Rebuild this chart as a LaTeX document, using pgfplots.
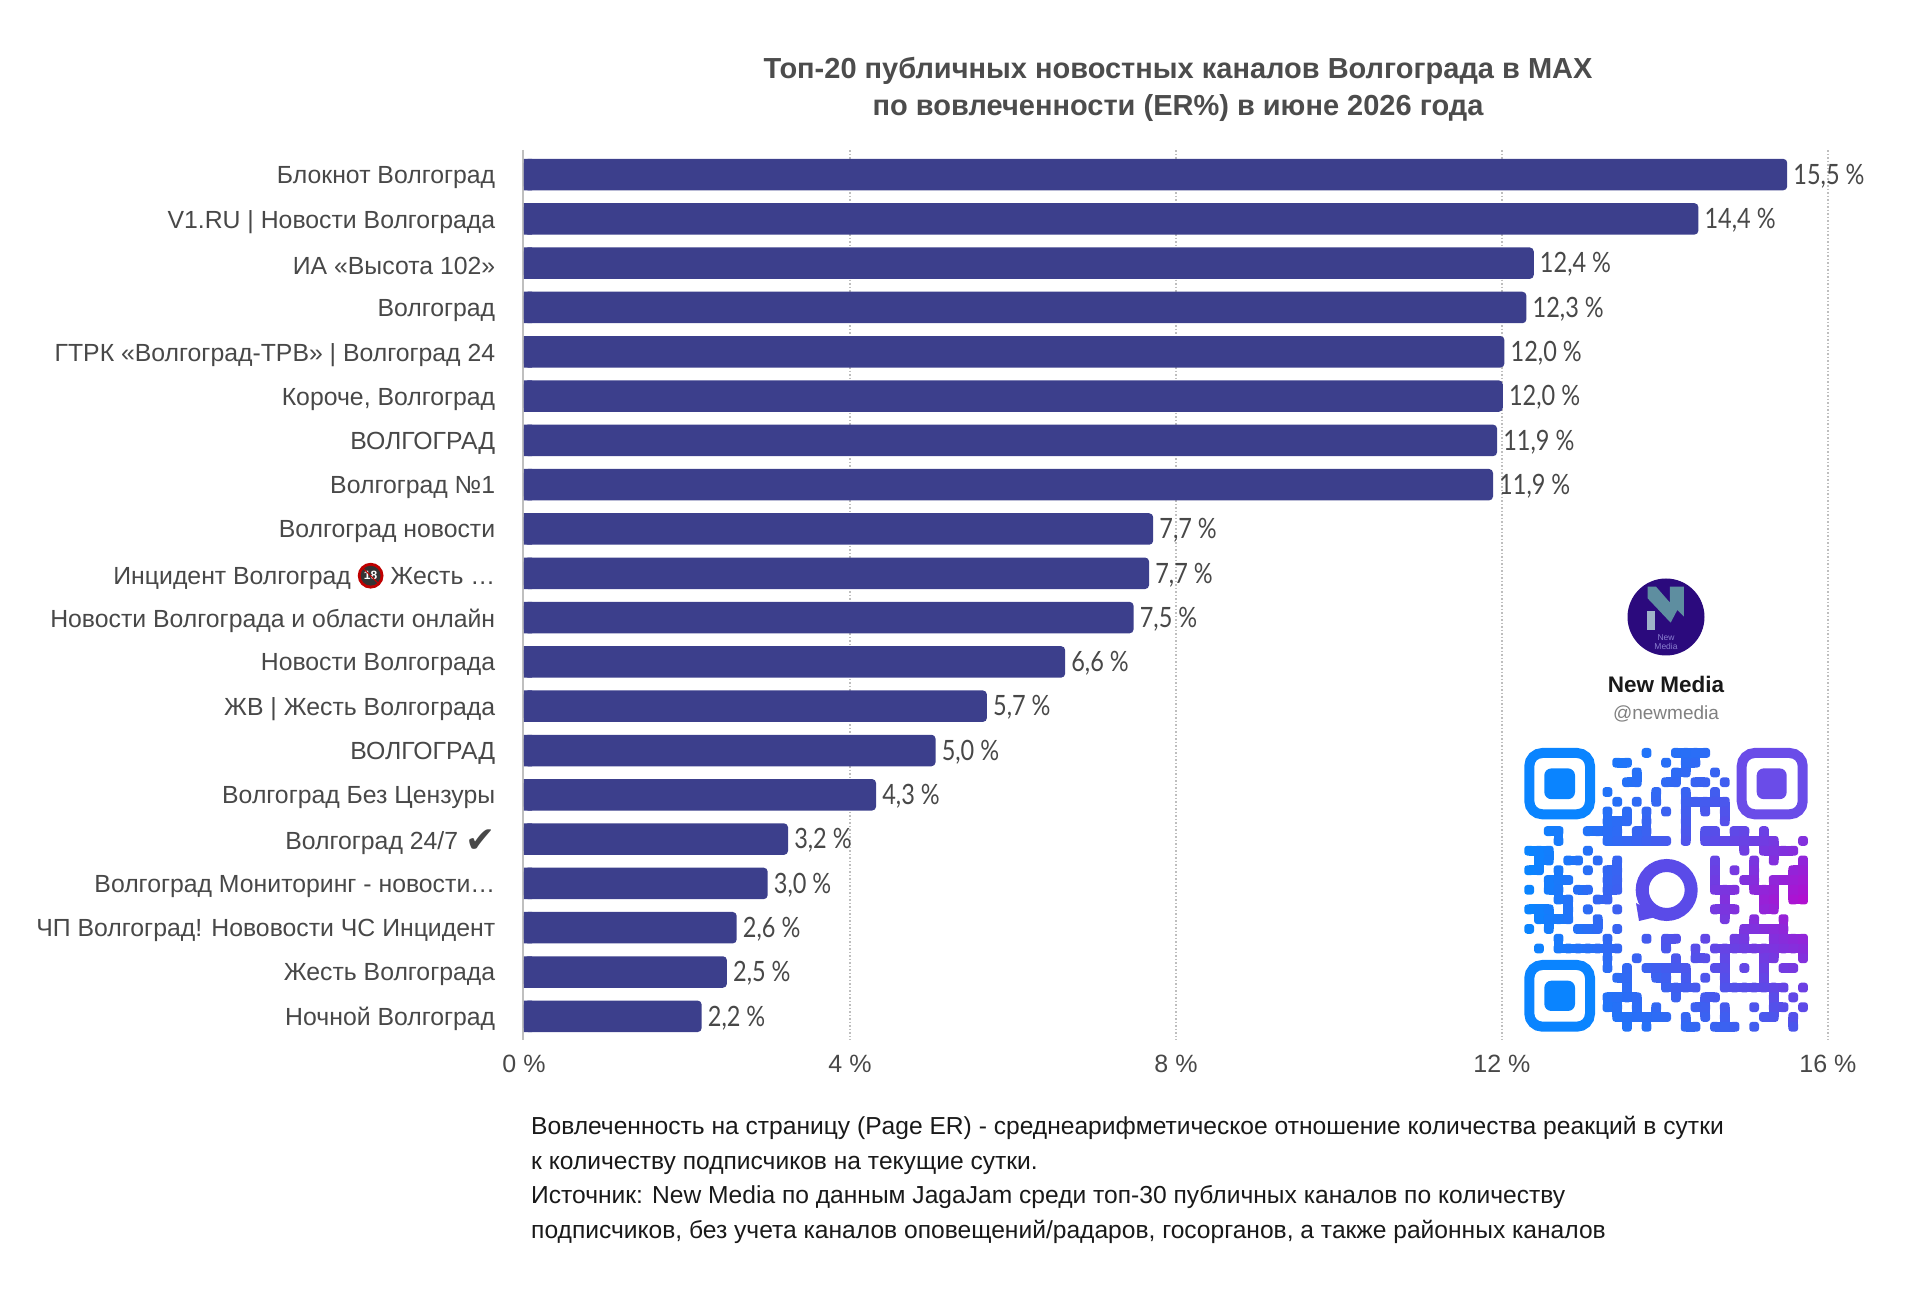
\documentclass[border=0pt]{standalone}
\usepackage{fontspec}
\usepackage{pgfplots}
\usepackage{pgfplotstable}
\pgfplotsset{compat=1.18}
\setmainfont{Liberation Sans}
\newfontfamily\valuefont{Lato}
\newfontfamily\symbfont{DejaVu Sans}

\definecolor{barblue}{HTML}{3C3F8C}
\definecolor{labelgray}{HTML}{484848}
\definecolor{titlegray}{HTML}{4C4C4C}
\definecolor{gridgray}{HTML}{BEBEBE}
\definecolor{qrblue}{HTML}{0A84FF}
\definecolor{qrpurple}{HTML}{B010D0}
\definecolor{qrviolet}{HTML}{6A4CE8}
\definecolor{qrring}{HTML}{5A4BE8}
\definecolor{logobg}{HTML}{2B0A7D}
\definecolor{logoteal}{HTML}{5E8EA0}
\definecolor{logopale}{HTML}{9FB3C8}
\definecolor{logolilac}{HTML}{8A7FD0}

% pos, bar length, printed value, square start of the bar
\pgfplotstableread{
pos val er base
0 15.50 15.5 0.1
1 14.41 14.4 0.1
2 12.39 12.4 0.1
3 12.30 12.3 0.1
4 12.03 12.0 0.1
5 12.01 12.0 0.1
6 11.94 11.9 0.1
7 11.89 11.9 0.1
8 7.72 7.7 0.1
9 7.67 7.7 0.1
10 7.48 7.5 0.1
11 6.64 6.6 0.1
12 5.68 5.7 0.1
13 5.05 5.0 0.1
14 4.32 4.3 0.1
15 3.24 3.2 0.1
16 2.99 3.0 0.1
17 2.61 2.6 0.1
18 2.49 2.5 0.1
19 2.18 2.2 0.1
}\ertable

% tick label keys stay active inside the label, so no \node in here
\newcommand{\adult}{\tikz[baseline=-0.36em]{\fill[red!75!black] (0,0) circle (0.52em);\fill[black!80] (0,0) circle (0.4em);\pgftext[x=0pt,y=0pt]{\color{white}\fontsize{12}{12}\selectfont\bfseries 18}\draw[red!75!black,line width=1pt] (-0.3em,0.3em)--(0.3em,-0.3em);}}

% qr modules, row/columns
\def\qrcells{
0/{12,15,16,17,18},
1/{9,10,14,16,17},
2/{11,15,16,19},
3/{10,11,14,15,17,18,20},
4/{8,13,16,19},
5/{9,11,13,16,17,18,19,20},
6/{8,10,12,14,16,18,20},
7/{8,9,10,12,16,20},
8/{2,3,6,7,8,9,11,12,16,18,19,21,22,24},
9/{3,8,9,10,11,12,13,14,16,18,19,20,21,22,23,24,25,28},
10/{0,1,2,6,22,24,25,26,27},
11/{1,2,4,5,7,9,19,23,25,28},
12/{0,1,3,6,8,9,19,21,23,27,28},
13/{2,3,4,8,9,19,22,23,25,26,27,28},
14/{0,2,3,5,6,8,9,19,20,21,23,24,25,27,28},
15/{3,4,7,8,20,24,25,27,28},
16/{0,1,2,4,6,9,19,20,21,24,25},
17/{1,2,3,4,7,20,23,26},
18/{0,2,5,6,7,9,22,23,24,25,26},
19/{3,8,12,14,15,18,21,22,25,26,27,28},
20/{1,3,4,5,6,7,8,9,14,17,19,20,21,22,23,24,25,26,27,28},
21/{8,11,15,17,18,20,24,25,28},
22/{8,10,12,13,14,15,16,19,20,22,24,26,27},
23/{9,10,13,14,16,18,20,24},
24/{10,14,15,16,17,20,21,22,23,24,25,26,28},
25/{8,9,10,11,15,18,19,25,27},
26/{8,9,11,13,17,18,20,23,25,26,28},
27/{9,10,11,12,13,14,16,18,20,24,25,27},
28/{10,12,16,17,19,20,21,23,27}}

\begin{document}
\begin{tikzpicture}
\begin{scope}[shift={(-524pt,1040pt)},x=1pt,y=-1pt]
\path[use as bounding box] (0,0) rectangle (1920,1303);
\draw[color=black!25,line width=1.5pt] (523,150)--(523,1040);
\end{scope}
\begin{axis}[
    scale only axis,
    width=1304pt,
    height=890pt,
    xmin=0,xmax=16,
    ymin=-0.555,ymax=19.535,
    y dir=reverse,
    xbar,
    bar width=31.5pt,
    axis line style={draw=none},
    major tick length=0pt,
    xmajorgrids=true,
    grid style={color=gridgray,line width=1.2pt,dash pattern=on 1.5pt off 2pt},
    xtick={4,8,12,16},
    extra x ticks={0},
    extra x tick style={grid=none},
    extra x tick labels={0 \%},
    xticklabels={4 \%,8 \%,12 \%,16 \%},
    x tick label style={font=\fontsize{25}{30}\selectfont,text=labelgray,inner sep=0pt,yshift=-15pt},
    ytick={0,...,19},
    yticklabels={
      Блокнот Волгоград,
      V1.RU | Новости Волгограда,
      ИА «Высота 102»,
      Волгоград,
      ГТРК «Волгоград-ТРВ» | Волгоград 24,
      {Короче, Волгоград},
      ВОЛГОГРАД,
      Волгоград №1,
      Волгоград новости,
      Инцидент Волгоград \adult{} Жесть …,
      Новости Волгограда и области онлайн,
      Новости Волгограда,
      ЖВ | Жесть Волгограда,
      ВОЛГОГРАД,
      Волгоград Без Цензуры,
      Волгоград 24/7 \raisebox{-3pt}{\symbfont\fontsize{36}{30}\selectfont ✔},
      Волгоград Мониторинг - новости…,
      ЧП Волгоград! Нововости ЧС Инцидент,
      Жесть Волгограда,
      Ночной Волгоград
    },
    y tick label style={font=\fontsize{24.8}{30}\selectfont,text=labelgray,anchor=east,inner sep=0pt,xshift=-28.6pt,yshift=-3pt},
    clip=false,
]
\addplot[draw=none,fill=barblue,rounded corners=4pt,bar shift=0pt,
    point meta=explicit,
    nodes near coords={\scalebox{0.84}[1]{\valuefont\pgfmathprintnumber[fixed,fixed zerofill,precision=1,use comma,assume math mode=true]{\pgfplotspointmeta} \%}},
    nodes near coords style={anchor=west,inner xsep=6pt,yshift=-1.5pt,text=labelgray,font=\fontsize{28}{30}\selectfont}]
  table[x=val,y=pos,meta=er] {\ertable};
\addplot[draw=none,fill=barblue,bar shift=0pt,forget plot] table[x=base,y=pos] {\ertable};
\end{axis}
\begin{scope}[shift={(-524pt,1040pt)},x=1pt,y=-1pt]
% title
\node[anchor=base,text=titlegray,font=\fontsize{29}{30}\selectfont\bfseries] at (1178,79) {Топ-20 публичных новостных каналов Волгограда в MAX};
\node[anchor=base,text=titlegray,font=\fontsize{29}{30}\selectfont\bfseries] at (1178,116) {по вовлеченности (ER\%) в июне 2026 года};
% footnote
\begin{scope}[every node/.style={anchor=base west,inner sep=0pt,text=black!90,font=\fontsize{24.6}{28}\selectfont}]
\node at (531,1135) {Вовлеченность на страницу (Page ER) - среднеарифметическое отношение количества реакций в сутки};
\node at (531,1170) {к количеству подписчиков на текущие сутки.};
\node at (531,1204) {Источник: New Media по данным JagaJam среди топ-30 публичных каналов по количеству};
\node at (531,1239) {подписчиков, без учета каналов оповещений/радаров, госорганов, а также районных каналов};
\end{scope}
% logo
\fill[color=logobg] (1666,617) circle (38.5);
\begin{scope}[shift={(1480,560)},x=0.3333pt,y=-0.3333pt]
\fill[color=logoteal] (503,80)--(528,80)--(570,128)--(570,80)--(612,80)--(612,170)--(592,150)--(572,188)--(503,115)--cycle;
\fill[color=logopale] (500,152)--(525,152)--(525,210)--(500,210)--cycle;
\end{scope}
\node[text=logolilac,font=\fontsize{8.5}{9}\selectfont,align=center,inner sep=0pt] at (1666,642) {New\\Media};
\node[text=black!90,font=\fontsize{22.5}{24}\selectfont\bfseries,inner sep=0pt] at (1666,684) {New Media};
\node[text=black!50,font=\fontsize{19}{22}\selectfont,inner sep=0pt] at (1666,714) {@newmedia};
% qr code finders
\draw[color=qrblue,line width=10pt,rounded corners=13pt] (1529.3,753) rectangle (1590,814.3);
\fill[color=qrblue,rounded corners=7pt] (1544.3,768.4) rectangle (1575,799.2);
\draw[color=qrviolet,line width=10pt,rounded corners=13pt] (1741.7,753) rectangle (1802.7,814.3);
\fill[color=qrviolet,rounded corners=7pt] (1756.7,768.4) rectangle (1786.7,799.2);
\draw[color=qrblue,line width=10pt,rounded corners=13pt] (1529.3,965) rectangle (1590,1026.7);
\fill[color=qrblue,rounded corners=7pt] (1544.3,980.7) rectangle (1575,1011);
% qr code modules, marked first so that neighbours can be joined
\foreach \r/\cs in \qrcells {
  \foreach \c in \cs {\expandafter\gdef\csname qr-\r-\c\endcsname{}}
}
\foreach \r/\cs in \qrcells {
  \foreach \c in \cs {
    \pgfmathsetmacro\mixv{100*\c/28*(1-abs(\r-15)/22)}
    \pgfmathsetmacro\qx{1524.3+9.78*\c}
    \pgfmathsetmacro\qy{748+9.78*\r}
    \pgfmathtruncatemacro\nc{\c+1}
    \pgfmathtruncatemacro\nr{\r+1}
    \fill[color=qrpurple!\mixv!qrblue,rounded corners=3pt] (\qx,\qy) rectangle (\qx+9.78,\qy+9.78);
    \ifcsname qr-\r-\nc\endcsname
      \fill[color=qrpurple!\mixv!qrblue] (\qx+4.89,\qy) rectangle (\qx+14.67,\qy+9.78);
    \fi
    \ifcsname qr-\nr-\c\endcsname
      \fill[color=qrpurple!\mixv!qrblue] (\qx,\qy+4.89) rectangle (\qx+9.78,\qy+14.67);
    \fi
  }
}
% qr centre mark
\draw[color=qrring,line width=13pt] (1666.7,890) circle (24.5);
\fill[color=qrring] (1636,903)--(1639,921)--(1660,916)--cycle;
\end{scope}
\end{tikzpicture}
\end{document}
